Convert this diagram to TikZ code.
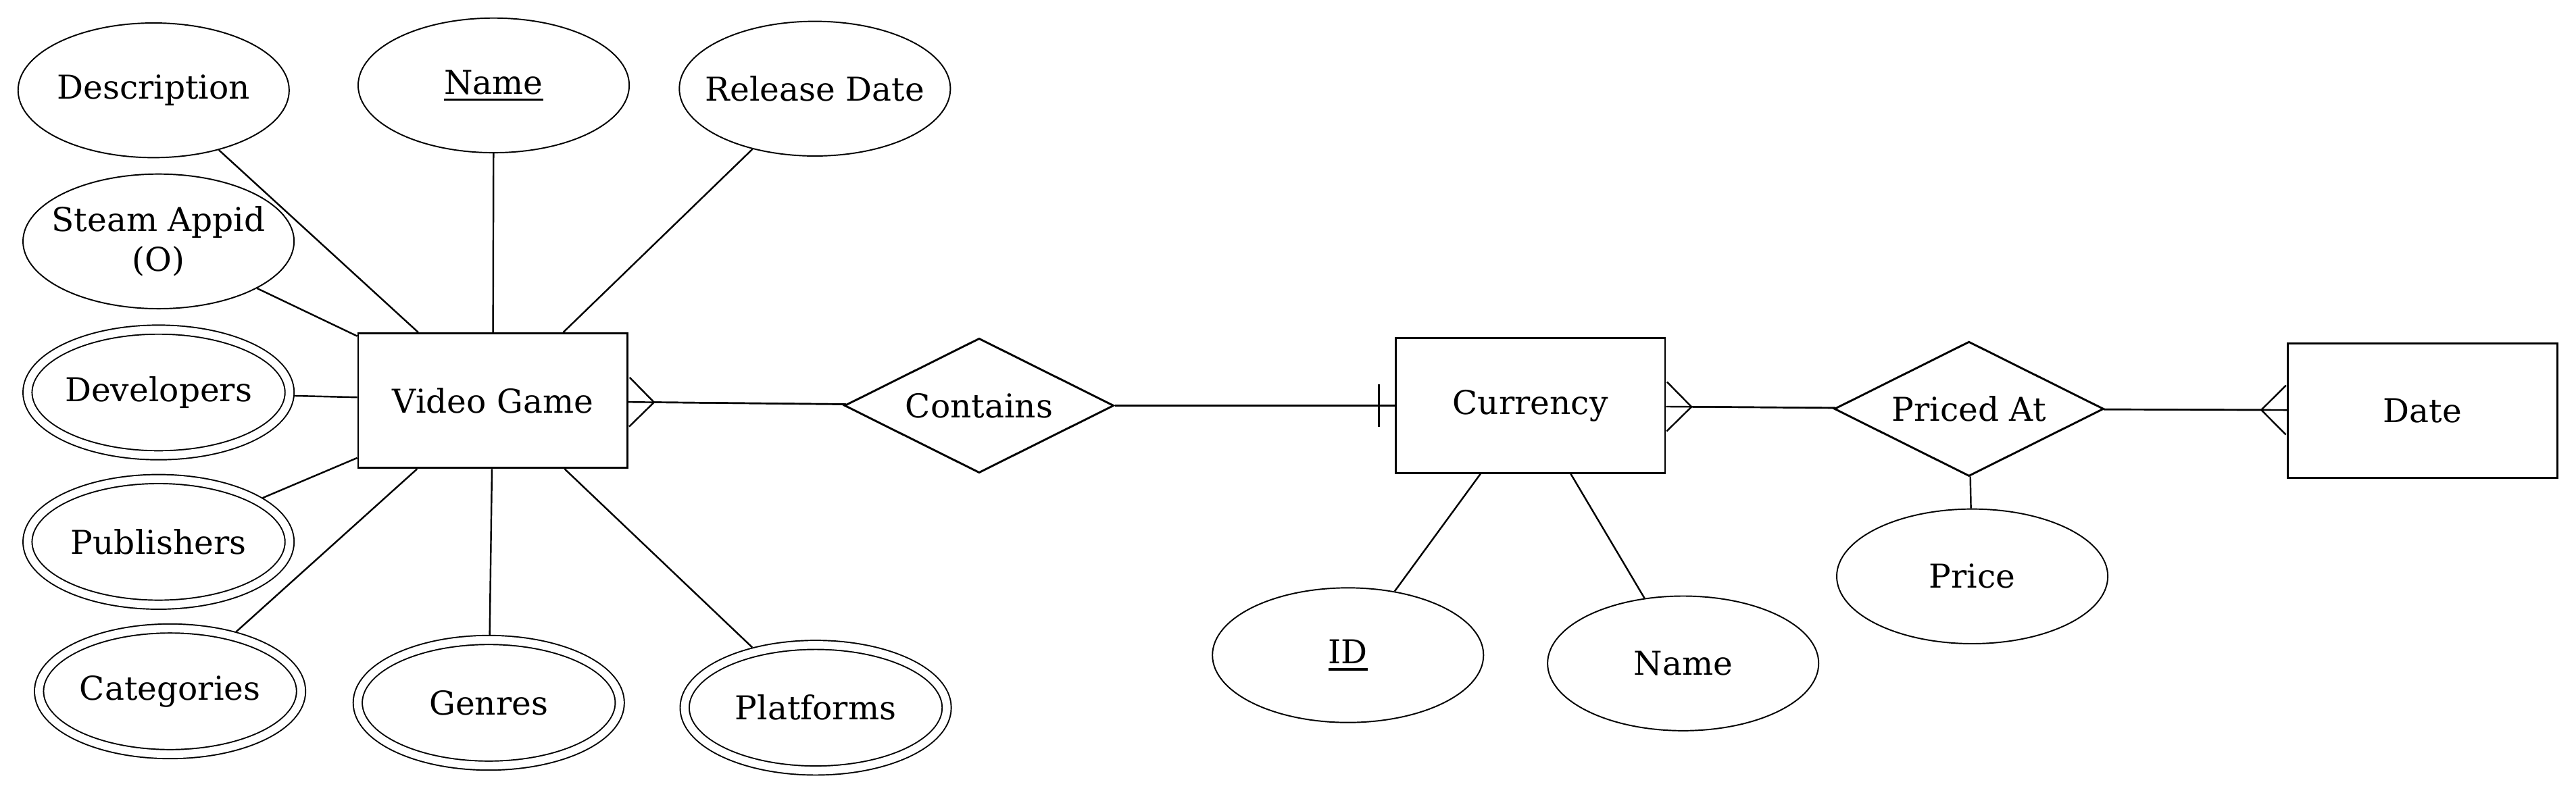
\documentclass[tikz,border=0pt]{standalone}
\usepackage{fontspec}
\setmainfont{DejaVu Serif}
\usetikzlibrary{shapes.geometric,arrows.meta}

\newcommand{\keyattr}[1]{\setbox0\hbox{#1}\rlap{\rule[-4pt]{\wd0}{1.4pt}}\box0}

\tikzset{
  entity/.style={draw, line width=1.2pt, rectangle, minimum width=164pt, minimum height=82pt, inner sep=0pt},
  relation/.style={draw, line width=1.2pt, diamond, aspect=2, minimum width=164pt, minimum height=82pt, inner sep=0pt},
  attr/.style={draw, line width=0.8pt, ellipse, minimum width=165pt, minimum height=82pt, inner xsep=-25pt, inner ysep=0pt, align=center},
  multiattr/.style={attr, double, double distance=4.7pt, minimum width=159.5pt, minimum height=76.5pt, outer sep=3.2pt},
  link/.style={line width=1pt},
  many/.tip={Straight Barb[reversed, length=15pt, width=30pt, line width=1pt]}
}

\begin{document}
\begin{tikzpicture}[x=1pt, y=1pt, every node/.style={font=\fontsize{20}{24}\selectfont}]
  \useasboundingbox (0,0) rectangle (1568,485);
  % entities
  \node[entity] (vg) at (300,241) {Video Game};
  \node[entity] (cur) at (931.5,238) {Currency};
  \node[entity] (date) at (1474.5,235) {Date};
  % relationships
  \node[relation] (contains) at (596,238) {Contains};
  \node[relation] (priced) at (1198.5,236) {Priced At};
  % attributes of the video game
  \node[attr] (desc) at (93.5,430) {Description};
  \node[attr] (vgname) at (300.5,433) {\keyattr{Name}};
  \node[attr] (reldate) at (496,431) {Release Date};
  \node[attr] (steam) at (96.5,338) {Steam Appid\\(O)};
  \node[multiattr] (dev) at (96.5,246) {Developers};
  \node[multiattr] (pub) at (96.5,155) {Publishers};
  \node[multiattr] (cat) at (103.5,64) {Categories};
  \node[multiattr] (gen) at (297.5,57) {Genres};
  \node[multiattr] (plat) at (496.5,54) {Platforms};
  % attributes of currency and price
  \node[attr] (curid) at (820.5,86) {\keyattr{ID}};
  \node[attr] (curname) at (1024.5,81) {Name};
  \node[attr] (price) at (1200.5,134) {Price};
  % attribute links
  \foreach \a in {desc,vgname,reldate,steam,dev,pub,cat,gen,plat}
    \draw[link] (vg) -- (\a);
  \draw[link] (cur) -- (curid);
  \draw[link] (cur) -- (curname);
  \draw[link] (priced) -- (price);
  % relationship links
  \draw[link] (vg) -- (contains);
  \draw[link] (contains) -- (cur);
  \draw[link] (cur) -- (priced);
  \draw[link] (priced) -- (date);
  % cardinality marks
  \path[draw, link, {many}-] (vg) -- (contains);
  \draw[link] ([xshift=-9.5pt]cur.west) +(0,13) -- +(0,-13);  % one
  \path[draw, link, {many}-] (cur) -- (priced);
  \path[draw, link, -{many}] (priced) -- (date);
\end{tikzpicture}
\end{document}
